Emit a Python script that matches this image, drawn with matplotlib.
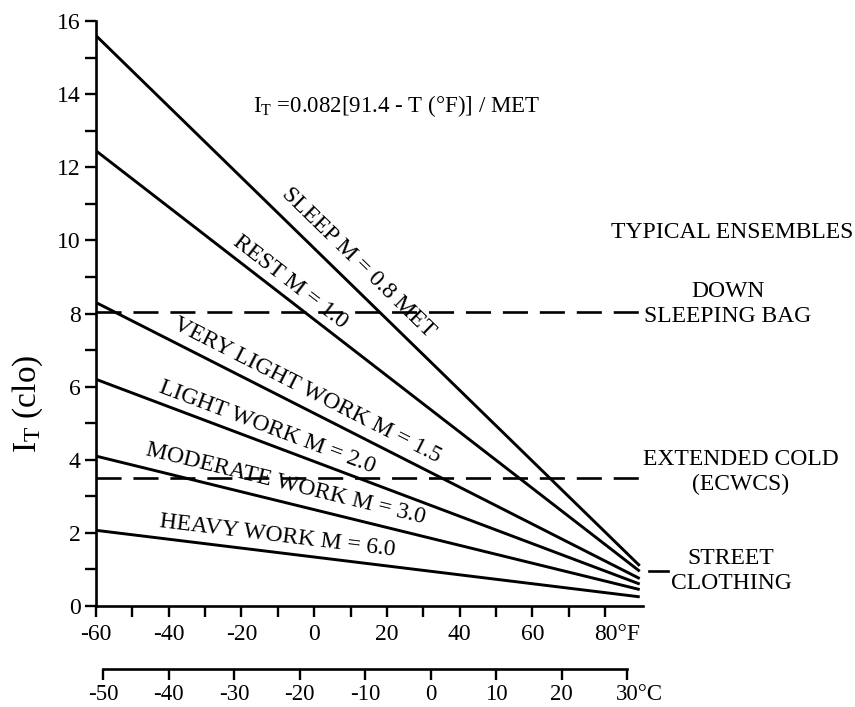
import numpy as np
import matplotlib
matplotlib.use("Agg")
import matplotlib.pyplot as plt
import matplotlib.transforms as mtransforms
from matplotlib.ticker import FixedLocator, MultipleLocator

# ---------------- data ----------------
activity_labels = ["SLEEP M = 0.8 MET", "REST M = 1.0", "VERY LIGHT WORK M = 1.5",
                   "LIGHT WORK M = 2.0", "MODERATE WORK M = 3.0", "HEAVY WORK M = 6.0"]
met_values = [0.8, 1.0, 1.5, 2.0, 3.0, 6.0]
temp_start_F = -60.0
temp_end_F = 89.5
clo_at_start = [15.6, 12.45, 8.3, 6.2, 4.1, 2.07]
clo_at_end = [1.1, 0.95, 0.75, 0.6, 0.45, 0.25]

ensemble_labels = ["DOWN\nSLEEPING BAG", "EXTENDED COLD\n(ECWCS)", "STREET\nCLOTHING"]
ensemble_clo = [8.05, 3.5, 0.95]

f_ticks = list(range(-60, 81, 10))
f_ticklabels = ["-60", "", "-40", "", "-20", "", "0", "", "20", "", "40", "", "60", "", "80°F"]
c_ticks = [-50, -40, -30, -20, -10, 0, 10, 20, 30]
c_ticklabels = ["-50", "-40", "-30", "-20", "-10", "0", "10", "20", "30°C"]
y_ticks = [0, 2, 4, 6, 8, 10, 12, 14, 16]

# label anchor positions (layout, data coords)
label_pos = [(12.2, 9.38), (-6.5, 8.86), (-2.1, 5.91), (-12.9, 4.90), (-7.9, 3.34), (-10.1, 1.91)]

# ---------------- style ----------------
plt.rcParams["font.family"] = ["Liberation Serif", "DejaVu Serif"]
plt.rcParams["mathtext.fontset"] = "custom"
plt.rcParams["mathtext.rm"] = "Liberation Serif"
plt.rcParams["mathtext.it"] = "Liberation Serif:italic"
FS = 17

W, H = 855, 707
fig = plt.figure(figsize=(W / 100, H / 100), dpi=100)
fig.patch.set_facecolor("white")

def fx(px):
    return px / W

def fy(py):
    return 1 - py / H

ax = fig.add_axes([fx(96), fy(606), fx(643) - fx(96), fy(21) - fy(606)])
XMAX = 90.4
ax.set_xlim(temp_start_F, XMAX)
ax.set_ylim(0, 16)
for s in ["top", "right"]:
    ax.spines[s].set_visible(False)
for s in ["left", "bottom"]:
    ax.spines[s].set_linewidth(1.9)

ax.xaxis.set_major_locator(FixedLocator(f_ticks))
ax.set_xticklabels(f_ticklabels, fontsize=FS)
ax.yaxis.set_major_locator(FixedLocator(y_ticks))
ax.yaxis.set_minor_locator(MultipleLocator(1))
ax.set_yticklabels([str(v) for v in y_ticks], fontsize=FS)
ax.tick_params(axis="y", which="both", direction="out", length=8, width=1.7, pad=3)
ax.tick_params(axis="x", which="major", direction="out", length=8, width=1.7, pad=5)

# shift the "80°F" label a little right like the reference
lbl = ax.get_xticklabels()[-1]
lbl.set_transform(lbl.get_transform() + mtransforms.ScaledTranslation(0.12, 0, fig.dpi_scale_trans))

# activity lines
for s0, s1 in zip(clo_at_start, clo_at_end):
    ax.plot([temp_start_F, temp_end_F], [s0, s1], color="black", lw=2.1, solid_capstyle="butt")

# labels along lines
for (lx, ly), s0, s1, txt in zip(label_pos, clo_at_start, clo_at_end, activity_labels):
    p0 = ax.transData.transform((temp_start_F, s0))
    p1 = ax.transData.transform((temp_end_F, s1))
    ang = np.degrees(np.arctan2(p1[1] - p0[1], p1[0] - p0[0]))
    ax.text(lx, ly, txt, rotation=ang, rotation_mode="anchor", ha="center", va="center",
            fontsize=FS)

# ensemble dashed reference lines
for lvl in ensemble_clo[:2]:
    ax.plot([temp_start_F, XMAX], [lvl, lvl], color="black", lw=1.9,
            linestyle=(0, (9.5, 4.5)), clip_on=False)
ax.plot([92.1, 97.4], [ensemble_clo[2], ensemble_clo[2]], color="black", lw=1.9, clip_on=False)

# right-side text
fig.text(fx(732), fy(232), "TYPICAL ENSEMBLES", ha="center", va="center", fontsize=FS)
fig.text(fx(728), fy(304), ensemble_labels[0], ha="center", va="center", fontsize=FS,
         linespacing=1.2)
fig.text(fx(741), fy(472), ensemble_labels[1], ha="center", va="center", fontsize=FS,
         linespacing=1.2)
fig.text(fx(731), fy(571), ensemble_labels[2], ha="center", va="center", fontsize=FS,
         linespacing=1.2)

# formula
fig.text(fx(253), fy(106), r"$\mathrm{I_T}$ =0.082[91.4 - T (°F)] / MET", ha="left",
         va="center", fontsize=16.5)

# y label
fig.text(fx(28), fy(404), r"$\mathrm{I_T}$ (clo)", rotation=90, ha="center", va="center",
         fontsize=24)

# Celsius axis
def f2c(f):
    return (f - 32.0) * 5.0 / 9.0

axc = fig.add_axes([fx(96), fy(669), fx(643) - fx(96), 0.0005])
axc.set_xlim(f2c(temp_start_F), f2c(XMAX))
axc.patch.set_visible(False)
for s in ["top", "right", "left"]:
    axc.spines[s].set_visible(False)
axc.spines["bottom"].set_linewidth(1.9)
axc.spines["bottom"].set_bounds(c_ticks[0], c_ticks[-1])
axc.set_yticks([])
axc.xaxis.set_major_locator(FixedLocator(c_ticks))
axc.set_xticklabels(c_ticklabels, fontsize=16.5)
axc.tick_params(axis="x", direction="out", length=8, width=1.7, pad=2.5)
lblc = axc.get_xticklabels()[-1]
lblc.set_transform(lblc.get_transform() + mtransforms.ScaledTranslation(0.12, 0, fig.dpi_scale_trans))

fig.savefig("out.png", dpi=100, facecolor="white")
